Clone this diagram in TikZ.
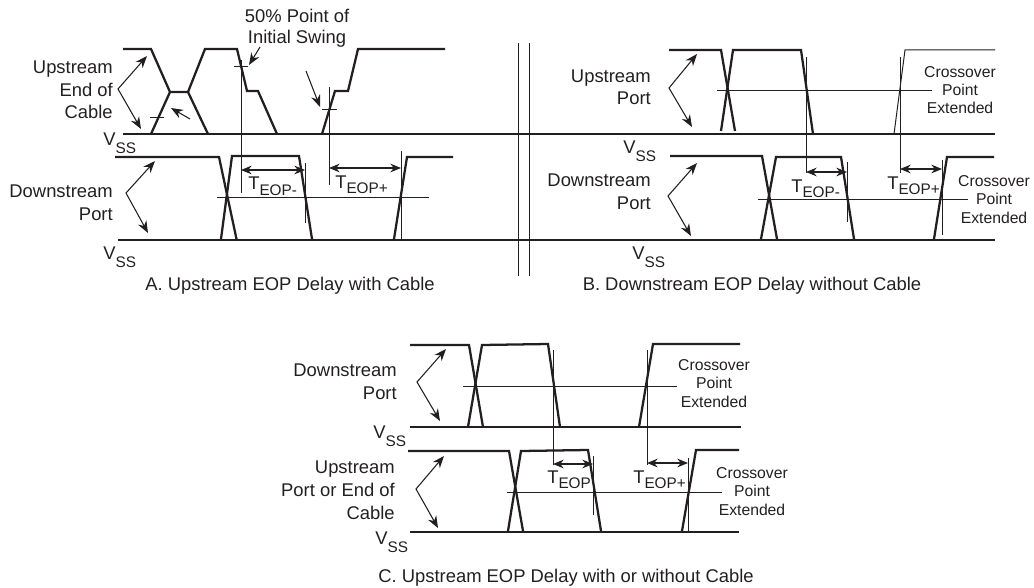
\documentclass[tikz,border=0pt]{standalone}
\usepackage{fontspec}
\setmainfont{Liberation Sans}
\usetikzlibrary{arrows.meta}
\definecolor{inkdark}{HTML}{231F20}
\newcommand\subtxt[2][4pt]{\raisebox{-#1}{\fontsize{11.5}{12}\selectfont #2}}
\newcommand\vsslabel{V\subtxt[6pt]{SS}}
\tikzset{
  wave/.style={line width=1.7pt},
  railline/.style={line width=1.5pt},
  guide/.style={line width=.75pt},
  leader/.style={line width=.8pt,-{Stealth[length=9pt,width=7pt]}},
  forked/.style={line width=.8pt,{Stealth[length=9pt,width=7pt]}-{Stealth[length=9pt,width=7pt]}},
  span/.style={line width=.8pt,{Stealth[length=8pt,width=6.5pt]}-{Stealth[length=8pt,width=6.5pt]}},
  sidetext/.style={inner sep=0pt,align=right,anchor=base east,font=\fontsize{13.8}{17}\selectfont},
  plaintext/.style={inner sep=0pt,anchor=base west,font=\fontsize{13.8}{17}\selectfont},
  caption/.style={inner sep=0pt,anchor=base,font=\fontsize{13.8}{17}\selectfont},
  crosstext/.style={inner sep=0pt,align=center,anchor=base,font=\fontsize{11.8}{13.8}\selectfont}
}
\begin{document}
\begin{tikzpicture}[x=.75pt,y=-.75pt,color=inkdark,text=inkdark]
\useasboundingbox (0,0) rectangle (1034,588);

% A. upstream with cable
\draw[wave] (123,49) -- (151,49) -- (170,92) -- (188,92) -- (208,134);
\draw[wave] (151,134) -- (170,92);
\draw[wave] (188,92) -- (205,49) -- (237,49) -- (247,91) -- (258,91) -- (277,134);
\draw[wave] (322,134) -- (335,91) -- (348,91) -- (358,49) -- (445,49);
\draw[railline] (123,134.5) -- (995,134.5);
\draw[guide] (150,117.5) -- (164,117.5);
\draw[guide] (234,67) -- (248,67);
\draw[guide] (322,110) -- (337,110);
\draw[guide] (241,60) -- (241,193);
\draw[guide] (329,87) -- (329,185);
\draw[wave] (115,157) -- (219,157) -- (236.5,239);
\draw[wave] (221,239) -- (232,156) -- (299,156) -- (312,239);
\draw[wave] (394,239) -- (407,157) -- (453,157);
\draw[railline] (118,239.5) -- (995,239.5);
\draw[guide] (217,197) -- (429,197);
\draw[guide] (305,163) -- (305,223);
\draw[guide] (401,151) -- (401,240);

% double break
\draw[guide] (518,43) -- (518,276);
\draw[guide] (529,43) -- (529,276);

% B. downstream without cable
\draw[wave] (669,50) -- (721,50) -- (735,131);
\draw[wave] (721,131) -- (733,50) -- (801,50) -- (813,134);
\draw[guide] (894,134) -- (905,50) -- (995,50);
\draw[guide] (717,91) -- (932,91);
\draw[guide] (806,57) -- (806,173);
\draw[guide] (900,57) -- (900,173);
\draw[wave] (670,156) -- (762,156) -- (777,239);
\draw[wave] (761,239) -- (776,157) -- (841,157) -- (854,239);
\draw[wave] (934,239) -- (947,157) -- (994,157);
\draw[guide] (758,199) -- (968,199);
\draw[guide] (847,162) -- (847,222);
\draw[guide] (942,160) -- (942,235);

% C. upstream with or without cable
\draw[wave] (410,345) -- (469,345) -- (483,427);
\draw[wave] (468,427) -- (482,345) -- (548,344) -- (560,427);
\draw[wave] (639,427) -- (653,344) -- (740,344);
\draw[railline] (410,427) -- (741,427);
\draw[guide] (463,386) -- (677,386);
\draw[guide] (553,350) -- (553,465);
\draw[guide] (647,350) -- (647,465);
\draw[wave] (408,451) -- (509,451) -- (523,531);
\draw[wave] (508,531) -- (521,451) -- (588,450) -- (601,531);
\draw[wave] (682,531) -- (696,450) -- (739,450);
\draw[railline] (410,532) -- (739,532);
\draw[guide] (507,492) -- (722,492);
\draw[guide] (593,456) -- (593,515);
\draw[guide] (688,458) -- (688,532);

% forked arrows from the signal names
\foreach \fname/\ax/\ay/\ux/\uy/\dx/\dy in {fa/118/89/147/56/141/129,fb/126/193/155/161/148/233,
    fc/669/88/697/54/692/127,fd/668/196/697/163/691/236,
    fe/417/382/446/349/440/421,ff/416/489/444/456/438/528} {
  \coordinate (\fname apex) at (\ax,\ay);
  \coordinate (\fname up) at (\ux,\uy);
  \coordinate (\fname down) at (\dx,\dy);
  \draw[forked] (\fname up) -- (\fname apex) -- (\fname down);
}

% spans between the guides
\foreach \sname/\lx/\rx/\sy in {sa/241/305/170,sb/329/401/168,sc/806/847/172,sd/900/942/169,se/553/593/464,sf/647/688/463} {
  \coordinate (\sname l) at (\lx,\sy);
  \coordinate (\sname r) at (\rx,\sy);
  \draw[span] (\sname l) -- (\sname r);
}

% pointers at the 50% marks
\coordinate (pa0) at (190,119);
\coordinate (pa1) at (171,108);
\coordinate (pb0) at (260,47);
\coordinate (pb1) at (249,65);
\coordinate (pc0) at (306,71);
\coordinate (pc1) at (320,107);
\draw[leader] (pa0) -- (pa1);
\draw[leader] (pb0) -- (pb1);
\draw[leader] (pc0) -- (pc1);

\node (swing) [crosstext,font=\fontsize{13.8}{16}\selectfont] at (297,44) {50\% Point of\\Initial Swing};
\node (upa) [sidetext] at (113,119) {Upstream\\End of~\\Cable};
\node (dna) [sidetext] at (113,220) {Downstream\\Port};
\node (upb) [sidetext] at (651,105) {Upstream\\Port};
\node (dnb) [sidetext] at (651,209) {Downstream\\Port};
\node (dnc) [sidetext] at (397,399) {Downstream~\\Port};
\node (upc) [sidetext] at (395,519) {Upstream\\Port or End of~\\Cable};

\node (vssa) [plaintext] at (103,146) {\vsslabel};
\node (vssb) [plaintext] at (103,259) {\vsslabel};
\node (vssc) [plaintext] at (623,153) {\vsslabel};
\node (vssd) [plaintext] at (632,259) {\vsslabel};
\node (vsse) [plaintext] at (373,438) {\vsslabel};
\node (vssf) [plaintext] at (375,544) {\vsslabel};

\node (ta) [plaintext] at (248,190) {T\subtxt{EOP-}};
\node (tb) [plaintext] at (335,188) {T\subtxt{EOP+}};
\node (tc) [plaintext] at (791,192) {T\subtxt{EOP-}};
\node (td) [plaintext] at (887,189) {T\subtxt{EOP+}};
\node (te) [plaintext] at (547,483) {T\subtxt{EOP}};
\node (tf) [plaintext] at (633,483) {T\subtxt{EOP+}};

\node (xa) [crosstext] at (960,114) {Crossover\\Point\\Extended};
\node (xb) [crosstext] at (994,223) {Crossover\\Point\\Extended};
\node (xc) [crosstext] at (714,407) {Crossover\\Point\\Extended};
\node (xd) [crosstext] at (752,515) {Crossover\\Point\\Extended};

\node (capa) [caption] at (290,290) {A. Upstream EOP Delay with Cable};
\node (capb) [caption] at (752,290) {B. Downstream EOP Delay without Cable};
\node (capc) [caption] at (566,582) {C. Upstream EOP Delay with or without Cable};
\end{tikzpicture}
\end{document}
